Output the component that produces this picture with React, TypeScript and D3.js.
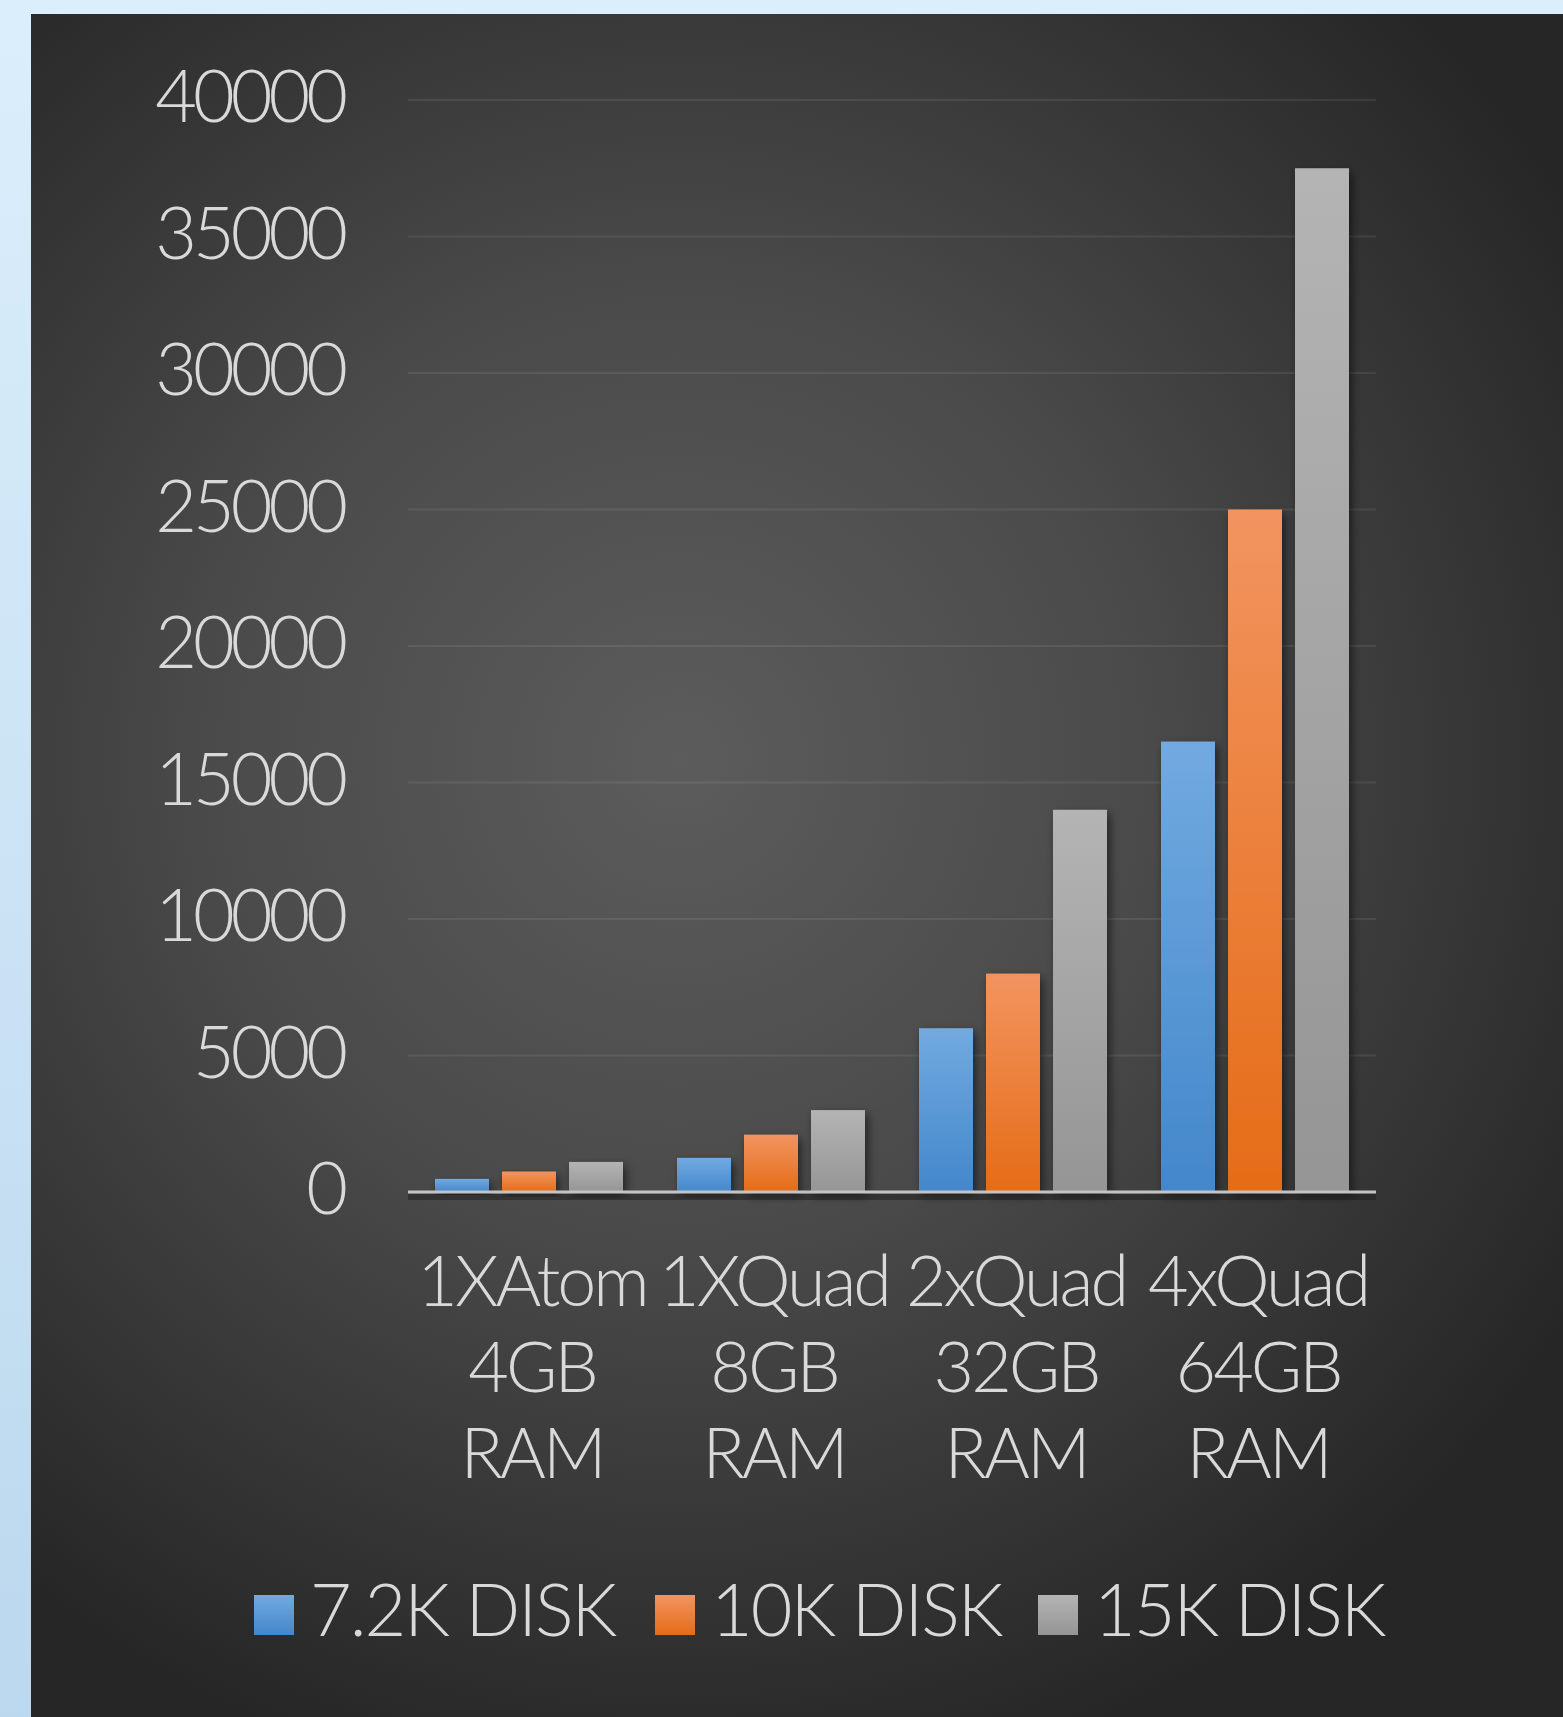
import React from 'react';
import * as d3 from 'd3';

const categories = ['1XAtom 4GB RAM', '1XQuad 8GB RAM', '2xQuad 32GB RAM', '4xQuad 64GB RAM'];
const categoryLines = [
  ['1XAtom', '4GB', 'RAM'],
  ['1XQuad', '8GB', 'RAM'],
  ['2xQuad', '32GB', 'RAM'],
  ['4xQuad', '64GB', 'RAM'],
];
const seriesNames = ['7.2K DISK', '10K DISK', '15K DISK'];
const disk72k = [480, 1250, 6000, 16500];
const disk10k = [750, 2100, 8000, 25000];
const disk15k = [1100, 3000, 14000, 37500];
const yTicks = [0, 5000, 10000, 15000, 20000, 25000, 30000, 35000, 40000];

const W = 1563;
const H = 1717;
const FONT = 'Lato, "Open Sans", sans-serif';

const App: React.FC = () => {
  const seriesValues = [disk72k, disk10k, disk15k];
  const x = d3.scaleBand<string>().domain(categories).range([408, 1376]).padding(0);
  const xs = d3
    .scaleBand<string>()
    .domain(seriesNames)
    .range([0, x.bandwidth()])
    .paddingInner(0.194)
    .paddingOuter(0.403);
  const y = d3.scaleLinear().domain([0, 40000]).range([1192, 100]);

  const grads = [
    { id: 'gBlue', top: '#72aae0', bottom: '#4387cb' },
    { id: 'gOrange', top: '#f29460', bottom: '#e56c17' },
    { id: 'gGray', top: '#b4b4b4', bottom: '#959595' },
  ];

  const legendX = [254, 655, 1038];

  return (
    <svg
      width={W}
      height={H}
      style={{ position: 'absolute', left: 0, top: 0, display: 'block' }}
      fontFamily={FONT}
    >
      <defs>
        <linearGradient id="outer" x1="0" y1="0" x2="0" y2="1">
          <stop offset="0" stopColor="#dbeefb" />
          <stop offset="1" stopColor="#bcd8ee" />
        </linearGradient>
        <radialGradient id="panel" gradientUnits="userSpaceOnUse" cx="680" cy="760" r="1050">
          <stop offset="0" stopColor="#5c5c5c" />
          <stop offset="0.45" stopColor="#4a4a4a" />
          <stop offset="1" stopColor="#262626" />
        </radialGradient>
        {grads.map((g) => (
          <linearGradient key={g.id} id={g.id} x1="0" y1="0" x2="0" y2="1">
            <stop offset="0" stopColor={g.top} />
            <stop offset="1" stopColor={g.bottom} />
          </linearGradient>
        ))}
        <filter id="shadow" x="-30%" y="-10%" width="160%" height="130%">
          <feDropShadow dx="3" dy="4" stdDeviation="5" floodColor="#000" floodOpacity="0.55" />
        </filter>
      </defs>

      <rect x={0} y={0} width={W} height={H} fill="url(#outer)" />
      <rect x={31} y={14} width={W - 31} height={H - 14} fill="url(#panel)" />

      {/* gridlines */}
      {yTicks.slice(1).map((t) => (
        <line
          key={t}
          x1={408}
          x2={1376}
          y1={y(t)}
          y2={y(t)}
          stroke="#ffffff"
          strokeOpacity={0.08}
          strokeWidth={2}
        />
      ))}

      {/* y tick labels */}
      {yTicks.map((t) => (
        <text
          key={t}
          x={344}
          y={y(t) + 22}
          textAnchor="end"
          fontSize={72}
          fontWeight={300}
          letterSpacing={-4}
          fill="#d9d9d9"
        >
          {t}
        </text>
      ))}

      {/* bars */}
      {categories.map((c, ci) => (
        <g key={c} transform={`translate(${x(c)},0)`}>
          {seriesNames.map((s, si) => {
            const v = seriesValues[si][ci];
            return (
              <rect
                key={s}
                x={xs(s)}
                y={y(v)}
                width={xs.bandwidth()}
                height={y(0) - y(v)}
                fill={`url(#${grads[si].id})`}
                filter="url(#shadow)"
              />
            );
          })}
        </g>
      ))}

      {/* baseline */}
      <line x1={408} x2={1376} y1={y(0)} y2={y(0)} stroke="#1e1e1e" strokeOpacity={0.5} strokeWidth={6} transform="translate(0,5)" />
      <line x1={408} x2={1376} y1={y(0)} y2={y(0)} stroke="#c4c4c4" strokeWidth={3} />

      {/* category labels */}
      {categories.map((c, ci) => (
        <text
          key={c}
          x={(x(c) as number) + x.bandwidth() / 2}
          textAnchor="middle"
          fontSize={70}
          fontWeight={300}
          letterSpacing={-3}
          fill="#d9d9d9"
        >
          {categoryLines[ci].map((ln, li) => (
            <tspan key={li} x={(x(c) as number) + x.bandwidth() / 2 + 3} y={1306 + li * 86}>
              {ln}
            </tspan>
          ))}
        </text>
      ))}

      {/* legend */}
      {seriesNames.map((s, si) => (
        <g key={s}>
          <rect x={legendX[si]} y={1595} width={40} height={40} fill={`url(#${grads[si].id})`} />
          <text
            x={legendX[si] + 56}
            y={1636}
            fontSize={72}
            fontWeight={300}
            letterSpacing={-2}
            fill="#d9d9d9"
          >
            {s}
          </text>
        </g>
      ))}
    </svg>
  );
};

export default App;
